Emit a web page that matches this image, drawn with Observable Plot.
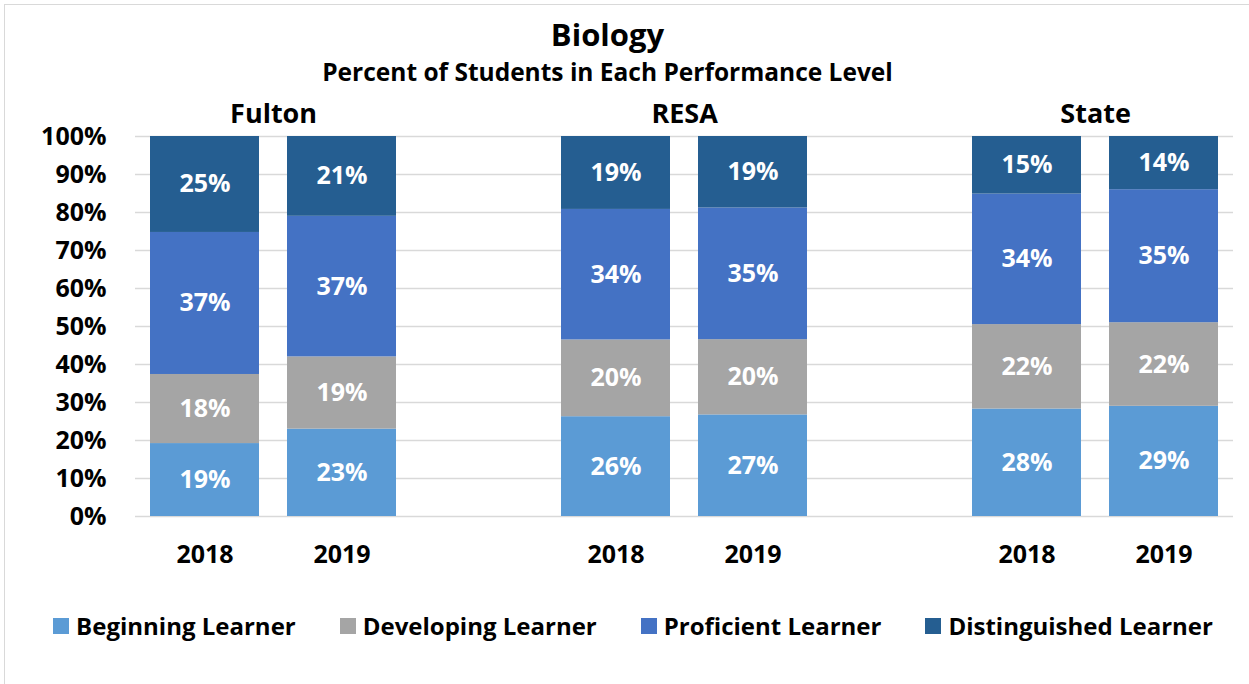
<!DOCTYPE html>
<html><head><meta charset="utf-8">
<script src="https://cdn.jsdelivr.net/npm/d3@7"></script>
<script src="https://cdn.jsdelivr.net/npm/@observablehq/plot@0.6"></script>
<style>
body{margin:0;background:#fff;font-family:"Open Sans",sans-serif;}
#wrap{position:relative;width:1249px;height:684px;overflow:hidden;background:#fff}
#frame{position:absolute;left:4px;top:4px;width:1300px;height:700px;border:1.5px solid #d9d9d9;box-sizing:border-box}
#chart{position:absolute;left:0;top:0}
#legend{position:absolute;left:0;top:612px;width:1266px;display:flex;justify-content:center;align-items:center;font-weight:bold;font-size:24px;line-height:28px;color:#000}
.item{display:flex;align-items:center;margin:0 22px;white-space:nowrap}
.sw{width:16px;height:16px;margin-right:7px;flex:none}
</style></head><body>
<div id="wrap"><div id="frame"></div><div id="chart"></div><div id="legend"></div></div>
<script>
const title = "Biology";
const subtitle = "Percent of Students in Each Performance Level";
const groups = ["Fulton", "RESA", "State"];
const years = ["2018", "2019"];
const levels = ["Beginning Learner", "Developing Learner", "Proficient Learner", "Distinguished Learner"];
const colors = ["#5B9BD5", "#A5A5A5", "#4472C4", "#255E91"];
// order of bars: Fulton 2018, Fulton 2019, RESA 2018, RESA 2019, State 2018, State 2019
const beginning     = [19, 23, 26, 27, 28, 29];
const developing    = [18, 19, 20, 20, 22, 22];
const proficient    = [37, 37, 34, 35, 34, 35];
const distinguished = [25, 21, 19, 19, 15, 14];
const yTicks = [0, 0.1, 0.2, 0.3, 0.4, 0.5, 0.6, 0.7, 0.8, 0.9, 1];

const barKeys = groups.flatMap(g => years.map(y => g + " " + y));
const xDomain = ["Fulton 2018", "Fulton 2019", "gap1", "RESA 2018", "RESA 2019", "gap2", "State 2018", "State 2019"];
const series = [beginning, developing, proficient, distinguished];
const data = [];
barKeys.forEach((k, i) => levels.forEach((lv, j) => data.push({key: k, level: lv, value: series[j][i]})));

const stackOpts = {offset: "normalize", x: "key", y: "value", z: "level"};

const chart = Plot.plot({
  width: 1249, height: 580,
  marginLeft: 135, marginRight: 16, marginTop: 136, marginBottom: 64,
  style: {fontFamily: "'Open Sans', sans-serif", fontWeight: "bold", fontSize: "24px", color: "#000", background: "transparent", overflow: "visible"},
  x: {domain: xDomain, paddingInner: 0.206, paddingOuter: 0.103, label: null},
  y: {domain: [0, 1], label: null},
  color: {domain: levels, range: colors},
  marks: [
    Plot.ruleY(yTicks, {stroke: "#D9D9D9", strokeWidth: 1.5}),
    Plot.barY(data, Plot.stackY({...stackOpts, fill: "level"})),
    Plot.text(data, Plot.stackY({...stackOpts, text: d => d.value + "%", fill: "white", fontSize: 25, lineAnchor: "middle"})),
    Plot.axisY({ticks: yTicks, tickFormat: d3.format(".0%"), tickSize: 0, tickPadding: 29, fontSize: 25, label: null}),
    Plot.axisX({ticks: barKeys, tickFormat: d => d.split(" ")[1], tickSize: 0, tickPadding: 29, fontSize: 25, label: null}),
    Plot.text(groups, {x: d => d + " 2018", text: d => d, dx: 68.6, frameAnchor: "top", dy: -22, lineAnchor: "middle", fontSize: 27}),
    Plot.text([title], {frameAnchor: "top", dx: -77, dy: 45 - 136, lineAnchor: "bottom", fontSize: 31}),
    Plot.text([subtitle], {frameAnchor: "top", dx: -77, dy: 80 - 136, lineAnchor: "bottom", fontSize: 24.5})
  ]
});
document.getElementById("chart").appendChild(chart);

const legend = document.getElementById("legend");
levels.forEach((lv, i) => {
  const it = document.createElement("div");
  it.className = "item";
  const sw = document.createElement("div");
  sw.className = "sw";
  sw.style.background = colors[i];
  const t = document.createElement("span");
  t.textContent = lv;
  it.appendChild(sw); it.appendChild(t);
  legend.appendChild(it);
});
</script>
</body></html>
